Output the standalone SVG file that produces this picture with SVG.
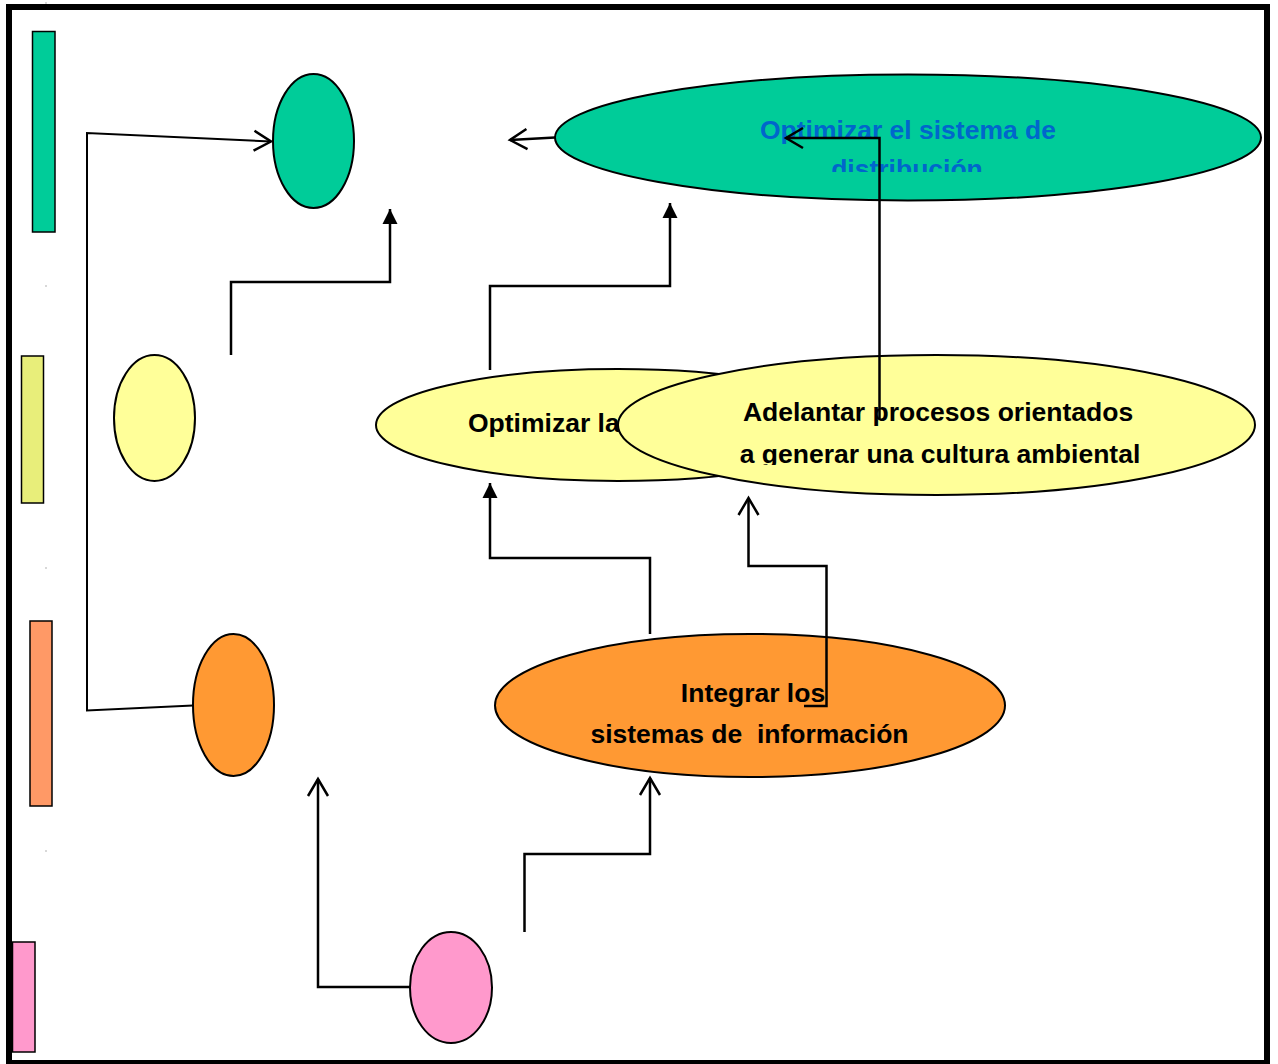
<svg xmlns="http://www.w3.org/2000/svg" width="1278" height="1064" viewBox="0 0 1278 1064">
  <style>
    .shape { stroke: #000; stroke-width: 2; }
    .bar { stroke: #000; stroke-width: 1.5; }
    .label { font-family: "Liberation Sans", Arial, sans-serif; font-weight: bold; font-size: 26.5px; fill: #000; }
    .label.blue { fill: #0066CC; }
    .link { fill: none; stroke: #000; stroke-width: 2.5; }
    .thin { stroke-width: 2; }
    .dot { fill: #666; }
  </style>
  <defs>
    <marker id="open" markerUnits="userSpaceOnUse" markerWidth="22" markerHeight="26" viewBox="0 0 22 26" refX="19" refY="11" orient="auto" overflow="visible">
      <path d="M2,1 L19,11 L2,21" fill="none" stroke="#000" stroke-width="2.5"/>
    </marker>
    <marker id="solid" markerUnits="userSpaceOnUse" markerWidth="16" markerHeight="16" viewBox="0 0 16 16" refX="15" refY="8" orient="auto" overflow="visible">
      <path d="M0,0.5 L15,8 L0,15.5 z" fill="#000"/>
    </marker>
    <clipPath id="clipGreen"><rect x="555" y="70" width="710" height="102"/></clipPath>
    <clipPath id="clipYellow"><rect x="600" y="350" width="660" height="115"/></clipPath>
  </defs>

  <rect width="1278" height="1064" fill="#fff"/>
  <!-- page frame -->
  <rect x="9" y="7" width="1258" height="1056" fill="none" stroke="#000" stroke-width="6"/>

  <!-- tiny marks along the left margin -->
  <rect class="dot" x="45.5" y="2.5" width="1" height="1"/>
  <rect class="dot" x="45.5" y="285.5" width="1" height="1"/>
  <rect class="dot" x="45.5" y="567.5" width="1" height="1"/>
  <rect class="dot" x="45.5" y="850.5" width="1" height="1"/>

  <!-- level bars -->
  <rect id="bar-green" class="bar" x="32.5" y="31.5" width="22.5" height="200.5" fill="#00CC99"/>
  <rect id="bar-yellow" class="bar" x="21.5" y="356" width="22" height="147" fill="#E8EE7A"/>
  <rect id="bar-orange" class="bar" x="30" y="621" width="22" height="185" fill="#FF9966"/>
  <rect id="bar-pink" class="bar" x="12.5" y="942" width="22.5" height="110" fill="#FF99CC"/>

  <!-- small level ellipses -->
  <g id="node-green-small"><ellipse class="shape" cx="313.5" cy="141" rx="40.5" ry="67" fill="#00CC99"/></g>
  <g id="node-yellow-small"><ellipse class="shape" cx="154.5" cy="418" rx="40.5" ry="63" fill="#FFFF99"/></g>
  <g id="node-orange-small"><ellipse class="shape" cx="233.5" cy="705" rx="40.5" ry="71" fill="#FF9933"/></g>
  <g id="node-pink-small"><ellipse class="shape" cx="451" cy="987.5" rx="41" ry="55.5" fill="#FF99CC"/></g>

  <!-- objectives -->
  <g id="node-distribucion">
    <ellipse class="shape" cx="908" cy="137.5" rx="353" ry="63" fill="#00CC99"/>
    <g clip-path="url(#clipGreen)">
      <text class="label blue" x="908" y="139" text-anchor="middle">Optimizar el sistema de</text>
      <text class="label blue" x="907" y="178" text-anchor="middle">distribución</text>
    </g>
  </g>

  <g id="node-optimizar">
    <ellipse class="shape" cx="618" cy="425" rx="242" ry="56" fill="#FFFF99"/>
    <text class="label" x="468" y="432">Optimizar la</text>
  </g>

  <g id="node-cultura">
    <ellipse class="shape" cx="936.5" cy="425" rx="318.5" ry="70" fill="#FFFF99"/>
    <g clip-path="url(#clipYellow)">
      <text class="label" x="938" y="421" text-anchor="middle">Adelantar procesos orientados</text>
      <text class="label" x="940" y="463" text-anchor="middle">a generar una cultura ambiental</text>
    </g>
  </g>

  <g id="node-informacion">
    <ellipse class="shape" cx="750" cy="705.5" rx="255" ry="71.5" fill="#FF9933"/>
    <text class="label" x="753" y="702" text-anchor="middle">Integrar los</text>
    <text class="label" x="749.5" y="743" text-anchor="middle" xml:space="preserve">sistemas de  información</text>
  </g>

  <!-- connectors -->
  <g id="connectors">
    <polyline class="link thin" points="193,705.5 87,710.5 87,133 271,141.5" marker-end="url(#open)"/>
    <line class="link" x1="555" y1="137.5" x2="510" y2="140" marker-end="url(#open)"/>
    <polyline class="link" points="231,355 231,282 390,282 390,209" marker-end="url(#solid)"/>
    <polyline class="link" points="490,370 490,286 670,286 670,203" marker-end="url(#solid)"/>
    <polyline class="link" points="879.5,420 879.5,138 786,138" marker-end="url(#open)"/>
    <polyline class="link" points="650,634 650,558 490,558 490,483" marker-end="url(#solid)"/>
    <polyline class="link" points="804,706 826.5,706 826.5,566 748.5,566 748.5,498" marker-end="url(#open)"/>
    <polyline class="link" points="410,987 318,987 318,779" marker-end="url(#open)"/>
    <polyline class="link" points="524.5,932 524.5,854 650,854 650,778" marker-end="url(#open)"/>
  </g>
</svg>
